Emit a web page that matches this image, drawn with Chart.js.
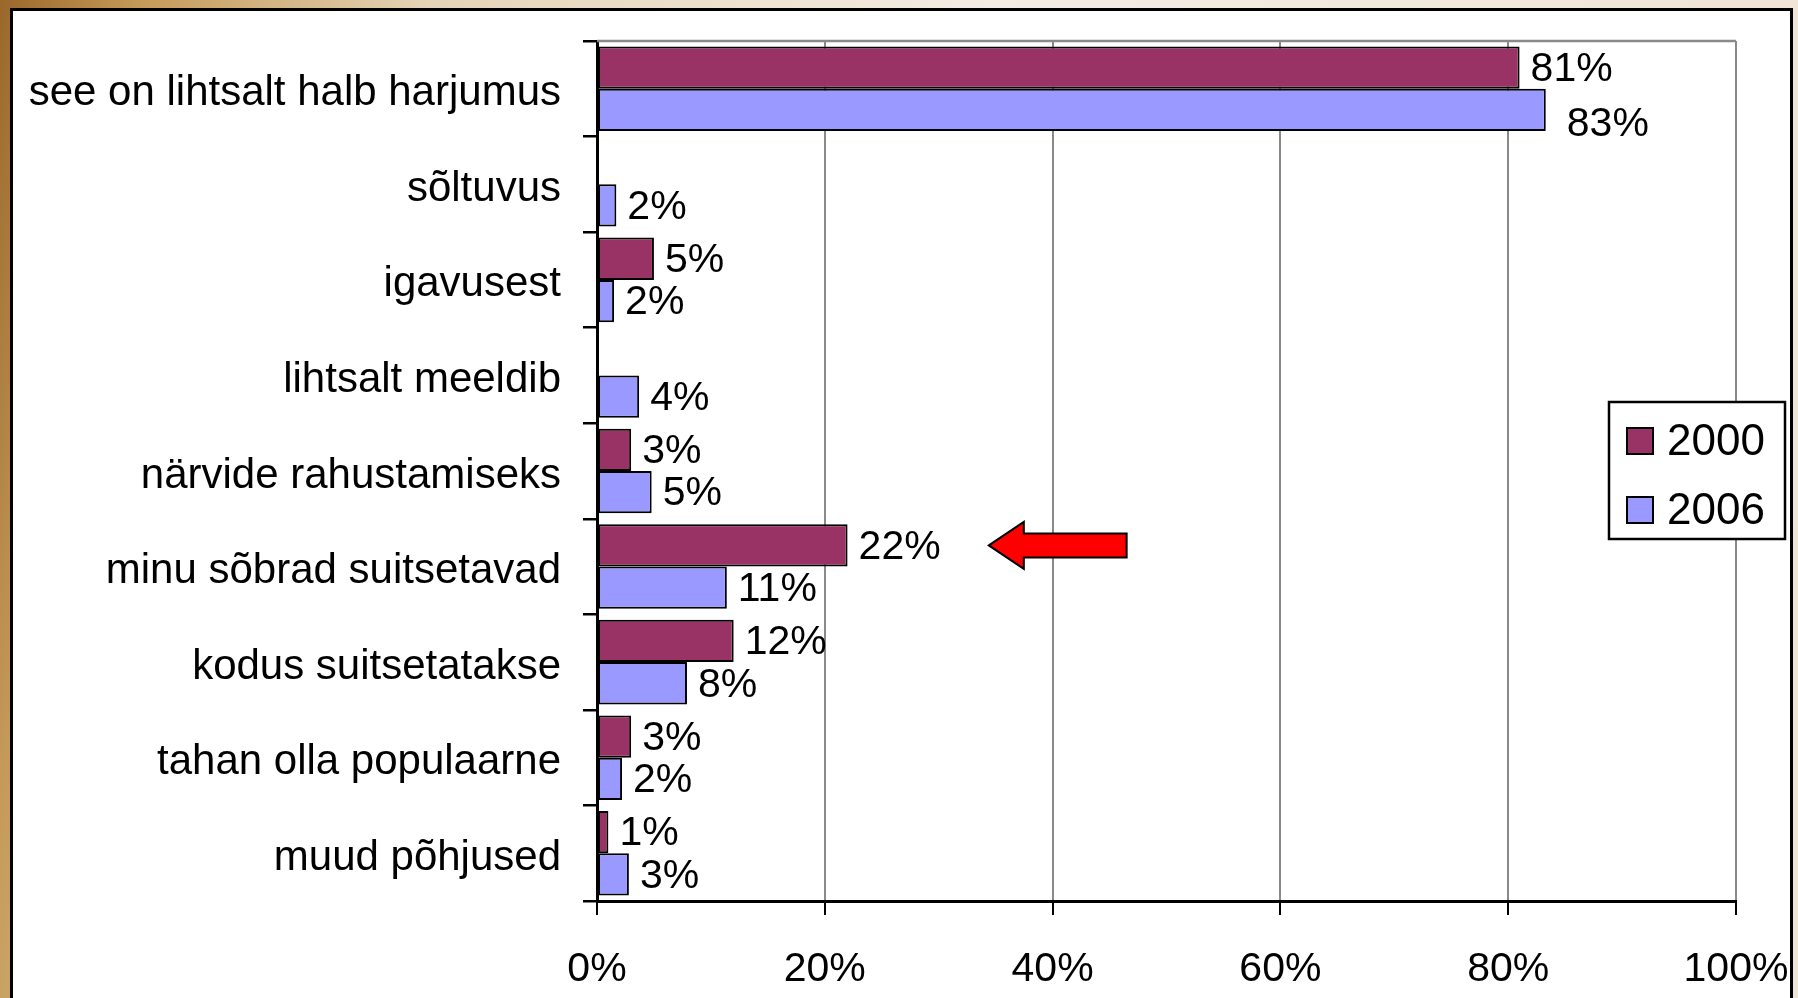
<!DOCTYPE html>
<html><head><meta charset="utf-8">
<script src="https://cdn.jsdelivr.net/npm/chart.js@4.4.1/dist/chart.umd.min.js"></script>
<style>
html,body{margin:0;padding:0;width:1798px;height:998px;overflow:hidden;}
body{position:relative;background:linear-gradient(100deg,#9a672a 0%,#c49a58 7%,#e6d4b8 22%,#f4ede4 50%,#efe3d3 100%);}
#frame{position:absolute;left:10px;top:8px;width:1777px;height:1000px;border:3px solid #000;background:#fff;}
#wrap{position:absolute;left:0;top:0;width:1798px;height:998px;}
</style></head><body>
<div id="frame"></div>
<div id="wrap"><canvas id="c"></canvas></div>
<script>
const categories = [
  'see on lihtsalt halb harjumus',
  'sõltuvus',
  'igavusest',
  'lihtsalt meeldib',
  'närvide rahustamiseks',
  'minu sõbrad suitsetavad',
  'kodus suitsetatakse',
  'tahan olla populaarne',
  'muud põhjused'
];
const seriesNames = ['2000', '2006'];
const values2000 = [81, null, 5, null, 3, 22, 12, 3, 1];
const values2006 = [83.3, 1.7, 1.5, 3.7, 4.8, 11.4, 7.9, 2.2, 2.8];
const xTickValues = [0, 20, 40, 60, 80, 100];
const arrowCategory = 'minu sõbrad suitsetavad';
const arrowFromValue = 46.5;
const arrowToValue = 34.4;

const FONT = '"Liberation Sans", Arial, sans-serif';

const labelPlugin = {
  id: 'valueLabels',
  afterDatasetsDraw(chart) {
    const ctx = chart.ctx;
    ctx.save();
    ctx.font = '41px ' + FONT;
    ctx.fillStyle = '#000';
    ctx.textAlign = 'left';
    ctx.textBaseline = 'middle';
    chart.data.datasets.forEach((ds, di) => {
      const meta = chart.getDatasetMeta(di);
      meta.data.forEach((bar, i) => {
        const v = ds.data[i];
        if (v === null || v === undefined) return;
        let dx = 11, dy = 2;
        // Excel nudged the second label of the top pair to avoid crowding
        if (di === 1 && i === 0) { dx = 21; dy = 15; }
        ctx.fillText(Math.round(v) + '%', bar.x + dx, bar.y + dy);
      });
    });
    ctx.restore();
  }
};

const framePlugin = {
  id: 'plotFrame',
  beforeDatasetsDraw(chart) {
    const {ctx, chartArea} = chart;
    ctx.save();
    ctx.strokeStyle = '#8a8a8a';
    ctx.lineWidth = 2.5;
    ctx.beginPath();
    ctx.moveTo(chartArea.left, chartArea.top);
    ctx.lineTo(chartArea.right, chartArea.top);
    ctx.stroke();
    ctx.restore();
  }
};

const arrowPlugin = {
  id: 'arrow',
  afterDatasetsDraw(chart) {
    const {ctx} = chart;
    const xs = chart.scales.x;
    const idx = categories.indexOf(arrowCategory);
    const bar = chart.getDatasetMeta(0).data[idx];
    const y = bar.y;
    const tip = xs.getPixelForValue(arrowToValue);
    const tail = xs.getPixelForValue(arrowFromValue);
    const headLen = 35, headHalf = 23.5, bodyHalf = 12;
    ctx.save();
    ctx.beginPath();
    ctx.moveTo(tip, y);
    ctx.lineTo(tip + headLen, y - headHalf);
    ctx.lineTo(tip + headLen, y - bodyHalf);
    ctx.lineTo(tail, y - bodyHalf);
    ctx.lineTo(tail, y + bodyHalf);
    ctx.lineTo(tip + headLen, y + bodyHalf);
    ctx.lineTo(tip + headLen, y + headHalf);
    ctx.closePath();
    ctx.fillStyle = '#ff0000';
    ctx.fill();
    ctx.lineWidth = 2;
    ctx.strokeStyle = '#000';
    ctx.lineJoin = 'miter';
    ctx.stroke();
    ctx.restore();
  }
};

const legendPlugin = {
  id: 'boxLegend',
  afterDraw(chart) {
    const {ctx} = chart;
    const bx = 1609, by = 402, bw = 176, bh = 137;
    ctx.save();
    ctx.fillStyle = '#fff';
    ctx.fillRect(bx, by, bw, bh);
    ctx.lineWidth = 2.5;
    ctx.strokeStyle = '#000';
    ctx.strokeRect(bx, by, bw, bh);
    ctx.font = '44px ' + FONT;
    ctx.textAlign = 'left';
    ctx.textBaseline = 'middle';
    chart.data.datasets.forEach((ds, i) => {
      const cy = by + 39 + i * 69;
      ctx.fillStyle = ds.backgroundColor;
      ctx.fillRect(bx + 18, cy - 13, 26, 26);
      ctx.lineWidth = 2;
      ctx.strokeStyle = '#000';
      ctx.strokeRect(bx + 18, cy - 13, 26, 26);
      ctx.fillStyle = '#000';
      ctx.fillText(ds.label, bx + 58, cy + 2);
    });
    ctx.restore();
  }
};

new Chart(document.getElementById('c'), {
  type: 'bar',
  data: {
    labels: categories,
    datasets: [
      { label: seriesNames[0], data: values2000, backgroundColor: '#993366', borderColor: '#000', borderWidth: 2, borderSkipped: false },
      { label: seriesNames[1], data: values2006, backgroundColor: '#9999ff', borderColor: '#000', borderWidth: 2, borderSkipped: false }
    ]
  },
  options: {
    indexAxis: 'y',
    responsive: true,
    maintainAspectRatio: false,
    animation: false,
    events: [],
    categoryPercentage: 0.885,
    barPercentage: 1.0,
    layout: { padding: { left: 0, top: 41, right: 62, bottom: 0 } },
    plugins: { legend: { display: false }, tooltip: { enabled: false } },
    scales: {
      x: {
        type: 'linear',
        min: 0, max: 100,
        afterBuildTicks(scale) { scale.ticks = xTickValues.map(v => ({ value: v })); },
        afterFit(scale) { scale.height = 97; scale.paddingLeft = 0; scale.paddingRight = 0; },
        ticks: {
          callback: v => v + '%',
          color: '#000',
          font: { family: FONT, size: 41 },
          padding: 30,
          maxRotation: 0
        },
        grid: { color: '#8a8a8a', lineWidth: 2, tickColor: '#000', tickLength: 14, drawTicks: true },
        border: { display: true, color: '#000', width: 3 }
      },
      y: {
        afterFit(scale) { scale.width = 597; scale.paddingTop = 0; scale.paddingBottom = 0; },
        ticks: {
          color: '#000',
          font: { family: FONT, size: 42 },
          padding: 22,
          labelOffset: 5,
          autoSkip: false
        },
        grid: { drawOnChartArea: false, drawTicks: true, tickLength: 14, tickColor: '#000', lineWidth: 2.5, offset: true },
        border: { display: true, color: '#000', width: 3 }
      }
    }
  },
  plugins: [framePlugin, labelPlugin, arrowPlugin, legendPlugin]
});
</script>
</body></html>
